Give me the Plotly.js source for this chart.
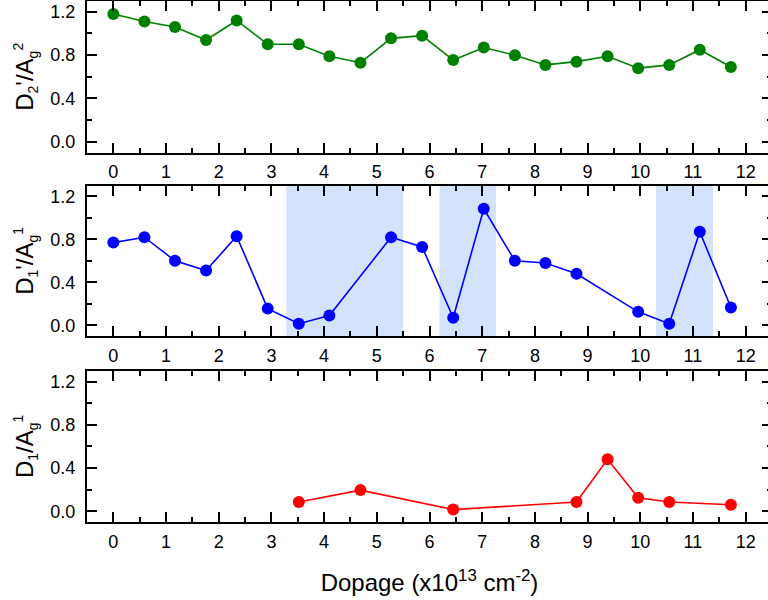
<!DOCTYPE html>
<html>
<head>
<meta charset="utf-8">
<script src="https://cdn.plot.ly/plotly-3.0.1.min.js"></script>
<style>
  html, body { margin: 0; padding: 0; overflow: hidden; background: #fff; }
  #chart { width: 776px; height: 600px; }
</style>
</head>
<body>
<div id="chart"></div>
<script>
// Dopage (x10^13 cm^-2) for each series
const dopageD2p = [0, 0.59, 1.17, 1.76, 2.34, 2.93, 3.52, 4.10, 4.69, 5.27, 5.86, 6.45, 7.03, 7.62, 8.20, 8.79, 9.38, 9.96, 10.55, 11.13, 11.72];
const ratioD2p = [1.18, 1.11, 1.06, 0.94, 1.12, 0.90, 0.90, 0.79, 0.73, 0.955, 0.98, 0.755, 0.87, 0.80, 0.71, 0.74, 0.79, 0.68, 0.71, 0.85, 0.69];

const dopageD1p = [0, 0.59, 1.17, 1.76, 2.34, 2.93, 3.52, 4.10, 5.27, 5.86, 6.45, 7.03, 7.62, 8.20, 8.79, 9.96, 10.55, 11.13, 11.72];
const ratioD1p = [0.77, 0.82, 0.60, 0.51, 0.83, 0.155, 0.015, 0.09, 0.82, 0.73, 0.07, 1.085, 0.60, 0.58, 0.48, 0.125, 0.015, 0.87, 0.165];

const dopageD1 = [3.52, 4.69, 6.45, 8.79, 9.38, 9.96, 10.55, 11.72];
const ratioD1 = [0.085, 0.195, 0.015, 0.085, 0.48, 0.125, 0.085, 0.06];

// Highlighted dopage intervals in the D1'/Ag1 panel
const bandStart = [3.28, 6.19, 10.30];
const bandEnd = [5.50, 7.26, 11.38];

const xTickVals = [0, 1, 2, 3, 4, 5, 6, 7, 8, 9, 10, 11, 12];
const yTickVals = [0.0, 0.4, 0.8, 1.2];

const FONT = 'Liberation Sans, Arial, sans-serif';

// small sub/superscript helpers for the axis titles
const sub = t => '<sub><span style="font-size:14px">' + t + '</span></sub>';
const sup = t => '<sup><span style="font-size:14px">' + t + '</span></sup>';

function series(x, y, color, xa, ya) {
  return {
    x: x, y: y, xaxis: xa, yaxis: ya,
    type: 'scatter', mode: 'lines+markers',
    line: { color: color, width: 1.6 },
    marker: { color: color, size: 12 },
    showlegend: false, hoverinfo: 'skip'
  };
}

function xAxis(anchor, withTitle) {
  const ax = {
    anchor: anchor, range: [-0.5, 12.5],
    tickmode: 'array', tickvals: xTickVals, ticktext: xTickVals.map(String),
    ticks: 'inside', ticklen: 10, tickwidth: 2, tickcolor: '#000',
    minor: { dtick: 0.5, tick0: 0, ticks: 'inside', ticklen: 5, tickwidth: 2, tickcolor: '#000', showgrid: false },
    showline: true, linewidth: 2, linecolor: '#000', mirror: 'ticks',
    showgrid: false, zeroline: false,
    tickfont: { family: FONT, size: 18, color: '#000' },
    ticklabelstandoff: 2,
    fixedrange: true
  };
  if (withTitle) {
    ax.title = { text: 'Dopage (x10<sup>13</sup> cm<sup>-2</sup>)', font: { family: FONT, size: 24, color: '#000' }, standoff: 24 };
  }
  return ax;
}

function yAxis(anchor, domain, title) {
  return {
    anchor: anchor, domain: domain, range: [-0.1, 1.3],
    tickmode: 'array', tickvals: yTickVals, ticktext: yTickVals.map(v => v.toFixed(1)),
    ticks: 'inside', ticklen: 10, tickwidth: 2, tickcolor: '#000',
    minor: { dtick: 0.2, tick0: 0, ticks: 'inside', ticklen: 5, tickwidth: 2, tickcolor: '#000', showgrid: false },
    showline: true, linewidth: 2, linecolor: '#000', mirror: 'ticks',
    showgrid: false, zeroline: false,
    tickfont: { family: FONT, size: 18, color: '#000' },
    ticklabelstandoff: 6,
    title: { text: title, font: { family: FONT, size: 24, color: '#000' }, standoff: 10 },
    fixedrange: true
  };
}

const data = [
  series(dopageD2p, ratioD2p, '#008000', 'x', 'y'),
  series(dopageD1p, ratioD1p, '#0000ff', 'x2', 'y2'),
  series(dopageD1, ratioD1, '#ff0000', 'x3', 'y3')
];

const shapes = bandStart.map((s, i) => ({
  type: 'rect', xref: 'x2', yref: 'y2 domain',
  x0: s, x1: bandEnd[i], y0: 0, y1: 1,
  fillcolor: '#d3e3fb', line: { width: 0 }, layer: 'below'
}));

const layout = {
  width: 776, height: 600,
  margin: { l: 87, r: 4, t: 1, b: 78 },
  paper_bgcolor: '#fff', plot_bgcolor: 'rgba(0,0,0,0)',
  font: { family: FONT, color: '#000' },
  xaxis: xAxis('y', false),
  xaxis2: xAxis('y2', false),
  xaxis3: xAxis('y3', true),
  yaxis: yAxis('x', [0.709, 1], 'D' + sub('2') + '\'/A' + sub('g') + sup('2')),
  yaxis2: yAxis('x2', [0.357, 0.6455], 'D' + sub('1') + '\'/A' + sub('g') + sup('1')),
  yaxis3: yAxis('x3', [0, 0.2904], 'D' + sub('1') + '/A' + sub('g') + sup('1')),
  shapes: shapes
};

Plotly.newPlot('chart', data, layout, { staticPlot: true, displayModeBar: false });
</script>
</body>
</html>
